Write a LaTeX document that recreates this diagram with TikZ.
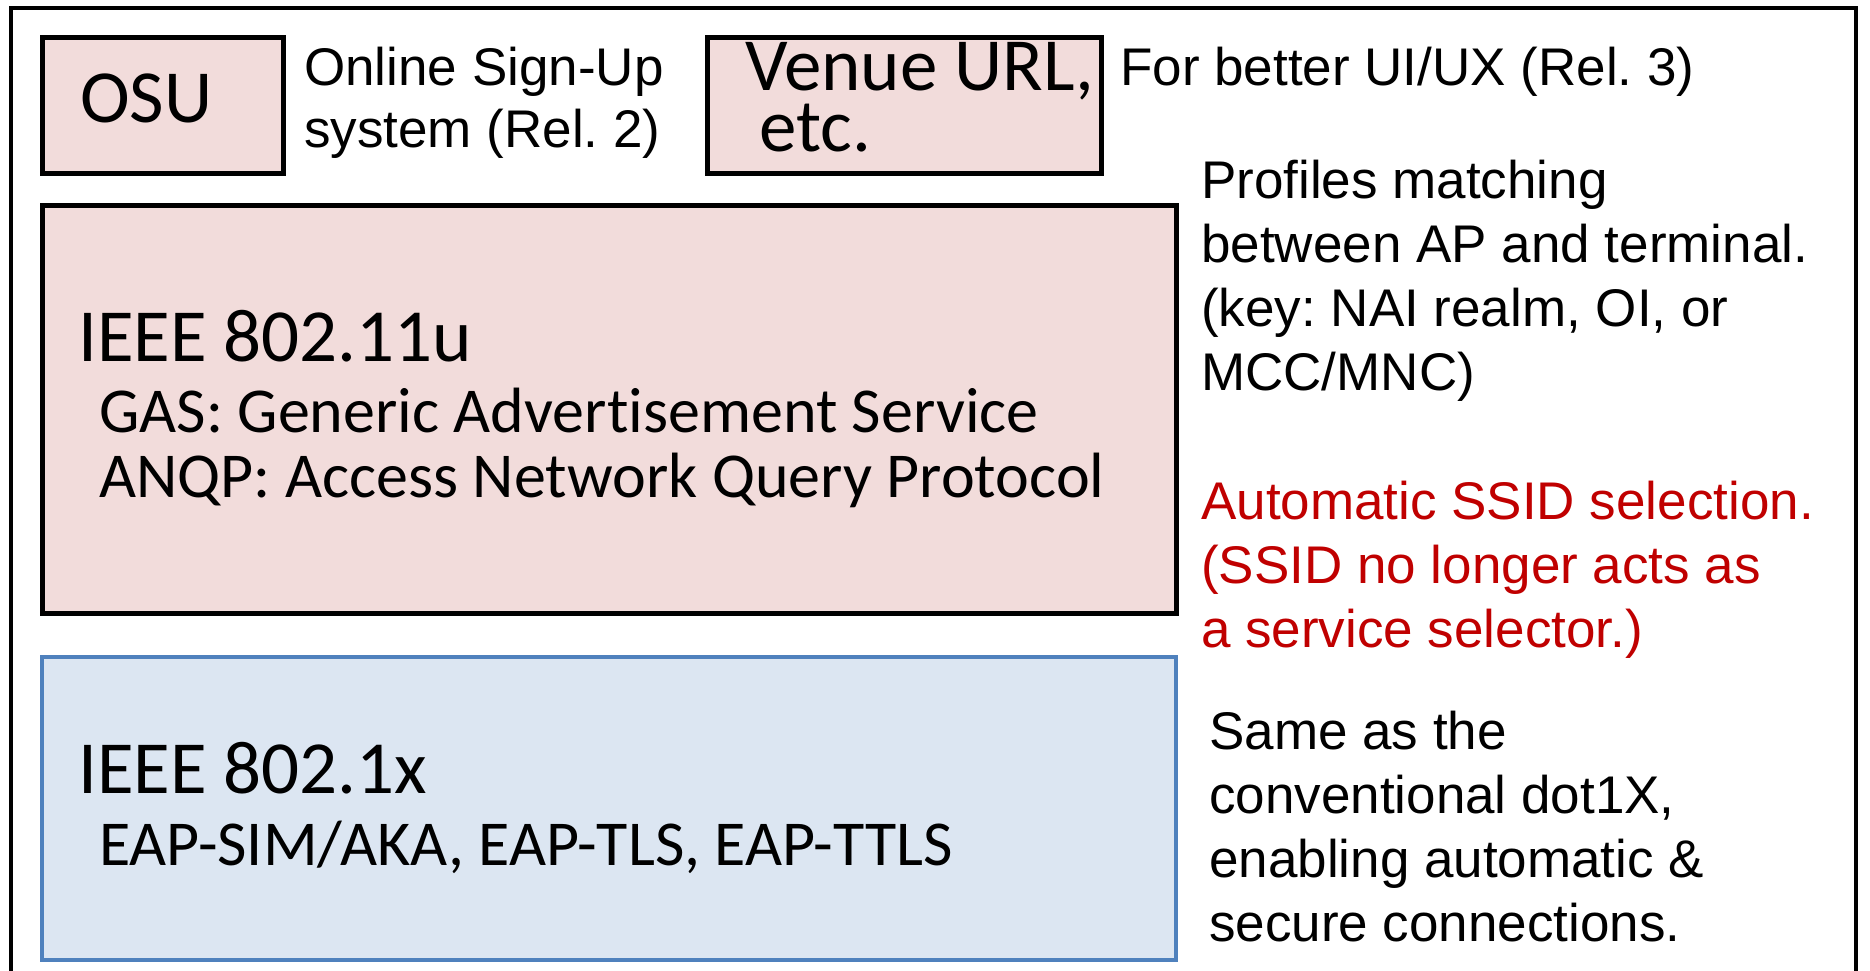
\documentclass[tikz,border=0pt]{standalone}
\usepackage{fontspec}
\newfontfamily\arialf{Liberation Sans}
\newfontfamily\calf[Ligatures=NoCommon]{Carlito}
\definecolor{pinkfill}{HTML}{F2DCDB}
\definecolor{bluefill}{HTML}{DCE6F2}
\definecolor{blueline}{HTML}{4F81BD}
\definecolor{sselred}{HTML}{C00000}
\newcommand\fstrut{\rule{0pt}{60pt}}
\frenchspacing
\begin{document}
\begin{tikzpicture}[x=1pt,y=-1pt,
  pinkbox/.style={draw=black, fill=pinkfill, line width=5pt, anchor=north west, inner sep=0pt, outer sep=0pt},
  bluebox/.style={draw=blueline, fill=bluefill, line width=4.5pt, anchor=north west, inner sep=0pt, outer sep=0pt},
  sideblock/.style={font=\arialf\fontsize{53}{64}\selectfont, anchor=north west, inner sep=0pt, align=left},
  sideline/.style={font=\arialf\fontsize{53}{64}\selectfont, anchor=base west, inner sep=0pt},
  redblock/.style={sideblock, text=sselred},
  headtext/.style={font=\calf\fontsize{75}{61}\selectfont, anchor=base west, inner sep=0pt},
  subline/.style={font=\calf\fontsize{64}{65}\selectfont, anchor=base west, inner sep=0pt},
  subblock/.style={font=\calf\fontsize{64}{65}\selectfont, anchor=north west, inner sep=0pt, align=left},
]
\useasboundingbox (0,0) rectangle (1870,971);
\fill[white] (0,0) rectangle (1870,971);
% outer frame (open at the bottom)
\coordinate (fbl) at (11,971);
\coordinate (ftl) at (11,8);
\coordinate (ftr) at (1856,8);
\coordinate (fbr) at (1856,971);
\draw[line width=4.5pt] (fbl) -- (ftl) -- (ftr) -- (fbr);

% boxes
\node[pinkbox, minimum width=241pt, minimum height=135pt] (osu) at (42,38) {};
\node[pinkbox, minimum width=394pt, minimum height=135pt] (venue) at (707,38) {};
\node[pinkbox, minimum width=1134pt, minimum height=408pt] (anqp) at (42,205) {};
\node[bluebox, minimum width=1134pt, minimum height=303pt] (dotx) at (42,657) {};

% box texts
\node[headtext] (osutxt) at (80,123) {OSU};
\node[headtext, anchor=north west, align=left] (venuetxt) at (745,30) {\fstrut Venue URL,\\\hspace*{14pt}etc.};
\node[headtext] (anqphead) at (78,361) {IEEE 802.11u};
\node[subblock] (anqpsub) at (99,372) {\fstrut GAS: Generic Advertisement Service\\ANQP: Access Network Query Protocol};
\node[headtext] (dotxhead) at (78,793) {IEEE 802.1x};
\node[subline] (dotxsub) at (99,865) {EAP-SIM/AKA, EAP-TLS, EAP-TTLS};

% side texts
\node[sideblock, font=\arialf\fontsize{53}{62}\selectfont] (osudesc) at (304,25) {\fstrut Online Sign-Up\\system (Rel. 2)};
\node[sideline] (venuedesc) at (1120,86) {For better UI/UX (Rel. 3)};
\node[sideblock] (profiles) at (1201,138) {\fstrut Profiles matching\\between AP and terminal.\\(key: NAI realm, OI, or\\MCC/MNC)};
\node[redblock] (autossid) at (1201,459) {\fstrut Automatic SSID selection.\\(SSID no longer acts as\\a service selector.)};
\node[sideblock] (same) at (1209,689) {\fstrut Same as the\\conventional dot1X,\\enabling automatic \&\\secure connections.};
\end{tikzpicture}
\end{document}
